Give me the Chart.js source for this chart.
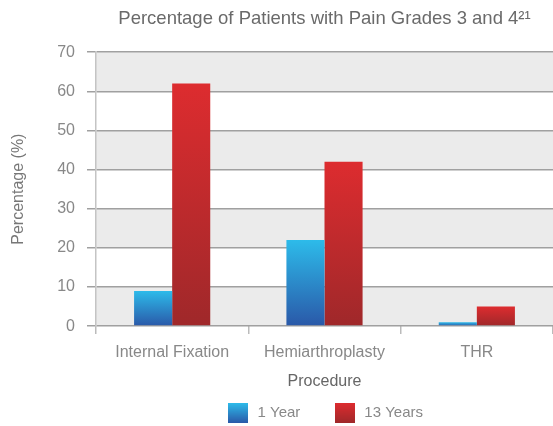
<!DOCTYPE html>
<html>
<head>
<meta charset="utf-8">
<script src="https://cdn.jsdelivr.net/npm/chart.js@4.4.1/dist/chart.umd.min.js"></script>
<style>
  html, body { margin:0; padding:0; background:#fff; }
  #grafico { display:block; }
</style>
</head>
<body>
<canvas id="grafico" width="553" height="426"></canvas>
<script>
var procedimientos = ["Internal Fixation", "Hemiarthroplasty", "THR"];
var unAnio = [9, 22, 1];
var treceAnios = [62, 42, 5];
var ticksY = [0, 10, 20, 30, 40, 50, 60, 70];

var fuente = "'Liberation Sans', Arial, sans-serif";
var azul = ["#2dbbea", "#2a58a8"];
var rojo = ["#dd2c2f", "#9f282a"];

// degradado de arriba a abajo de cada barra
function degradado(colores){
    return function(ctx){
        var chart = ctx.chart;
        if(!chart.chartArea || ctx.type !== "data") return colores[1];
        var y = chart.scales.y;
        var arriba = y.getPixelForValue(ctx.raw);
        var abajo = y.getPixelForValue(0);
        if(abajo - arriba < 1) arriba = abajo - 1;
        var g = chart.ctx.createLinearGradient(0, arriba, 0, abajo);
        g.addColorStop(0, colores[0]);
        g.addColorStop(1, colores[1]);
        return g;
    };
}

function cuadroLeyenda(colores){
    var c = document.createElement("canvas");
    c.width = 20; c.height = 20;
    var cx = c.getContext("2d");
    var g = cx.createLinearGradient(0, 0, 0, 20);
    g.addColorStop(0, colores[0]);
    g.addColorStop(1, colores[1]);
    cx.fillStyle = g;
    cx.fillRect(0, 0, 20, 20);
    return c;
}

// franjas grises alternas en el fondo
var franjas = {
    id: "franjas",
    beforeDraw: function(chart){
        var a = chart.chartArea, y = chart.scales.y, ctx = chart.ctx;
        ctx.save();
        ctx.fillStyle = "#ebebeb";
        for(var i = 0; i < ticksY.length - 1; i += 2){
            var y1 = y.getPixelForValue(ticksY[i + 1]);
            var y0 = y.getPixelForValue(ticksY[i]);
            ctx.fillRect(a.left, y1, a.right - a.left, y0 - y1);
        }
        ctx.restore();
    }
};

var chart = new Chart(document.getElementById("grafico").getContext("2d"), {
    type: "bar",
    plugins: [franjas],
    data: {
        labels: procedimientos,
        datasets: [
            { label: "1 Year", data: unAnio, backgroundColor: degradado(azul),
              pointStyle: cuadroLeyenda(azul), categoryPercentage: 0.5, barPercentage: 1.0 },
            { label: "13 Years", data: treceAnios, backgroundColor: degradado(rojo),
              pointStyle: cuadroLeyenda(rojo), categoryPercentage: 0.5, barPercentage: 1.0 }
        ]
    },
    options: {
        responsive: false,
        animation: false,
        layout: { padding: { left: 9, right: 0, top: 4, bottom: -4.5 } },
        plugins: {
            title: {
                display: true,
                fullSize: false,
                text: "Percentage of Patients with Pain Grades 3 and 4\u00b2\u00b9",
                color: "#6a6a6a",
                font: { family: fuente, size: 18.5, weight: "normal" },
                padding: { top: 4, bottom: 22 }
            },
            legend: {
                position: "bottom",
                fullSize: false,
                labels: {
                    usePointStyle: true,
                    pointStyleWidth: 24,
                    color: "#888",
                    font: { family: fuente, size: 15 },
                    padding: 10,
                    generateLabels: function(c){
                        var items = Chart.defaults.plugins.legend.labels.generateLabels(c);
                        items.forEach(function(it, i){
                            if(i < items.length - 1) it.text += "\u2002\u2002\u2002";
                        });
                        return items;
                    }
                }
            },
            tooltip: { enabled: false }
        },
        scales: {
            x: {
                grid: { display: true, drawOnChartArea: false, drawTicks: true, tickLength: 8,
                        color: "#bbb", lineWidth: 1.5, offset: true },
                border: { display: false },
                ticks: { color: "#888", font: { family: fuente, size: 16 }, padding: 9 },
                title: { display: true, text: "Procedure", color: "#666",
                         font: { family: fuente, size: 16 }, padding: { top: 1, bottom: 4 } }
            },
            y: {
                min: 0, max: 70,
                afterBuildTicks: function(s){ s.ticks = ticksY.map(function(v){ return { value: v }; }); },
                grid: { color: "#a0a0a0", lineWidth: 1.5, drawTicks: true, tickLength: 9 },
                border: { display: true, color: "#c4c4c4", width: 1.5 },
                ticks: { color: "#888", font: { family: fuente, size: 16 }, padding: 12 },
                title: { display: true, text: "Percentage (%)", color: "#777",
                         font: { family: fuente, size: 16 }, padding: { top: 0, bottom: 17 } }
            }
        }
    }
});
</script>
</body>
</html>
